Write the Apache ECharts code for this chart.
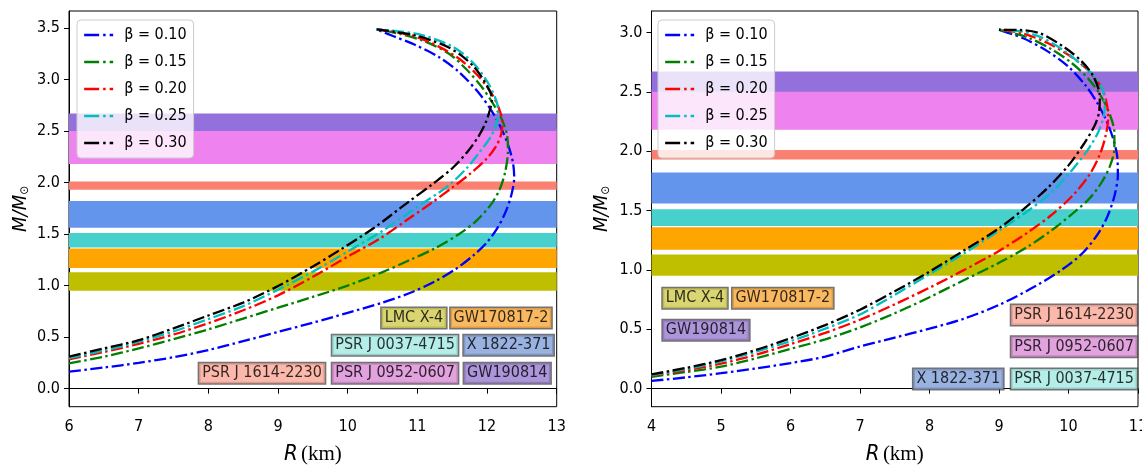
<!DOCTYPE html>
<html>
<head>
<meta charset="utf-8">
<script src="https://cdn.jsdelivr.net/npm/echarts@6/dist/echarts.min.js"></script>
<style>
  html, body { margin: 0; padding: 0; background: #ffffff; }
  #chart { width: 1142px; height: 467px; }
</style>
</head>
<body>
<div id="chart"></div>
<script>
// Mass-radius sequences for five values of beta, [R (km), M/M_sun]
const betaNames = ['β = 0.10', 'β = 0.15', 'β = 0.20', 'β = 0.25', 'β = 0.30'];

// Left panel
const leftB010 = [[6.0,0.165],[6.5,0.205],[7.0,0.25],[7.5,0.305],[8.0,0.375],[8.5,0.46],[9.0,0.55],[9.5,0.64],[10.0,0.735],[10.5,0.835],[10.9,0.93],[11.25,1.04],[11.55,1.16],[11.8,1.29],[12.0,1.42],[12.15,1.56],[12.27,1.72],[12.35,1.88],[12.39,2.05],[12.37,2.2],[12.3,2.37],[12.2,2.53],[12.07,2.69],[11.88,2.87],[11.6,3.07],[11.3,3.22],[10.95,3.34],[10.65,3.42],[10.41,3.486]];
const leftB015 = [[6.0,0.245],[6.5,0.31],[7.0,0.39],[7.5,0.48],[8.0,0.575],[8.5,0.68],[9.0,0.785],[9.5,0.89],[10.0,1.0],[10.5,1.13],[10.9,1.25],[11.25,1.36],[11.6,1.5],[11.85,1.63],[12.05,1.78],[12.18,1.93],[12.26,2.1],[12.3,2.3],[12.29,2.45],[12.22,2.6],[12.1,2.75],[11.92,2.93],[11.7,3.1],[11.45,3.25],[11.1,3.37],[10.75,3.44],[10.41,3.486]];
const leftB020 = [[6.0,0.285],[6.5,0.355],[7.0,0.435],[7.5,0.525],[8.0,0.635],[8.5,0.76],[9.0,0.905],[9.5,1.085],[10.0,1.28],[10.45,1.45],[10.85,1.636],[11.2,1.8],[11.5,1.95],[11.75,2.08],[11.98,2.22],[12.12,2.34],[12.2,2.46],[12.22,2.58],[12.17,2.72],[12.05,2.88],[11.85,3.05],[11.6,3.2],[11.3,3.32],[10.9,3.43],[10.41,3.486]];
const leftB025 = [[6.0,0.295],[6.5,0.37],[7.0,0.455],[7.5,0.555],[8.0,0.675],[8.5,0.8],[9.0,0.96],[9.5,1.135],[10.0,1.33],[10.5,1.53],[11.0,1.765],[11.43,1.96],[11.71,2.14],[11.9,2.3],[12.05,2.44],[12.13,2.56],[12.16,2.68],[12.14,2.78],[12.02,2.96],[11.8,3.16],[11.5,3.32],[11.0,3.44],[10.41,3.486]];
const leftB030 = [[6.0,0.31],[6.5,0.39],[7.0,0.47],[7.5,0.585],[8.0,0.71],[8.5,0.835],[9.0,0.995],[9.5,1.185],[9.9,1.35],[10.37,1.556],[10.85,1.8],[11.23,1.99],[11.52,2.15],[11.74,2.315],[11.88,2.45],[11.98,2.58],[12.04,2.7],[12.07,2.8],[12.05,2.87],[11.95,2.994],[11.81,3.123],[11.62,3.237],[11.43,3.317],[11.19,3.38],[10.95,3.43],[10.66,3.463],[10.41,3.486]];

// Right panel
const rightB010 = [[4.0,0.065],[4.5,0.095],[5.0,0.13],[5.5,0.17],[6.0,0.215],[6.5,0.27],[7.0,0.355],[7.5,0.43],[8.0,0.505],[8.5,0.59],[9.0,0.705],[9.5,0.855],[9.9,1.0],[10.2,1.14],[10.42,1.3],[10.56,1.45],[10.66,1.62],[10.71,1.8],[10.7,1.96],[10.645,2.1],[10.55,2.25],[10.42,2.4],[10.25,2.55],[10.0,2.71],[9.7,2.84],[9.35,2.95],[9.0,3.022]];
const rightB015 = [[4.0,0.10],[4.5,0.14],[5.0,0.185],[5.5,0.255],[6.0,0.335],[6.5,0.415],[7.0,0.515],[7.5,0.635],[8.0,0.77],[8.5,0.915],[9.0,1.06],[9.4,1.19],[9.75,1.33],[10.05,1.47],[10.3,1.6],[10.48,1.74],[10.6,1.88],[10.66,2.02],[10.66,2.16],[10.6,2.3],[10.48,2.45],[10.3,2.6],[10.05,2.74],[9.75,2.86],[9.4,2.96],[9.0,3.022]];
const rightB020 = [[4.0,0.11],[4.5,0.155],[5.0,0.21],[5.5,0.285],[6.0,0.375],[6.5,0.47],[7.0,0.58],[7.5,0.71],[8.0,0.85],[8.5,1.0],[9.0,1.16],[9.4,1.31],[9.75,1.46],[10.05,1.62],[10.3,1.8],[10.45,1.97],[10.53,2.12],[10.57,2.27],[10.55,2.4],[10.48,2.53],[10.3,2.67],[10.05,2.79],[9.7,2.91],[9.35,2.99],[9.0,3.022]];
const rightB025 = [[4.0,0.115],[4.5,0.165],[5.0,0.23],[5.5,0.31],[6.0,0.40],[6.5,0.505],[7.0,0.625],[7.5,0.79],[8.0,0.965],[8.5,1.14],[9.0,1.33],[9.4,1.49],[9.75,1.65],[10.05,1.84],[10.3,2.03],[10.45,2.19],[10.52,2.35],[10.5,2.5],[10.38,2.63],[10.2,2.72],[9.95,2.84],[9.6,2.96],[9.3,3.01],[9.0,3.022]];
const rightB030 = [[4.0,0.12],[4.5,0.175],[5.0,0.24],[5.5,0.325],[6.0,0.425],[6.5,0.535],[7.0,0.665],[7.5,0.82],[8.0,0.985],[8.5,1.165],[9.0,1.35],[9.35,1.51],[9.7,1.69],[10.0,1.88],[10.22,2.06],[10.38,2.22],[10.44,2.33],[10.45,2.46],[10.36,2.628],[10.2,2.75],[9.95,2.87],[9.6,2.99],[9.3,3.02],[9.0,3.022]];

// Observational mass constraints (M/M_sun)
const bandNames = ['LMC X-4', 'GW170817-2', 'PSR J 0037-4715', 'X 1822-371', 'PSR J 1614-2230', 'PSR J 0952-0607', 'GW190814'];
const bandLow  = [0.95, 1.17, 1.37, 1.56, 1.93, 2.18, 2.50];
const bandHigh = [1.13, 1.36, 1.51, 1.82, 2.01, 2.52, 2.67];

// Where each name tag sits, in data units [R, M]
const tagSpotsLeft  = [[10.95,0.686],[12.20,0.686],[10.68,0.422],[12.31,0.422],[8.77,0.149],[10.68,0.149],[12.29,0.149]];
const tagSpotsRight = [[4.626,0.762],[5.889,0.762],[10.08,0.082],[8.414,0.082],[10.08,0.621],[10.08,0.353],[4.784,0.492]];

// Axis ticks
const leftXTicks = [6, 7, 8, 9, 10, 11, 12, 13];
const leftYTicks = [0.0, 0.5, 1.0, 1.5, 2.0, 2.5, 3.0, 3.5];
const rightXTicks = [4, 5, 6, 7, 8, 9, 10, 11];
const rightYTicks = [0.0, 0.5, 1.0, 1.5, 2.0, 2.5, 3.0];

// ---------- styling ----------
const lineColors = ['#0000ff', '#008000', '#ff0000', '#00bfbf', '#000000'];
const bandColors = ['#bfbf00', '#ffa500', '#48d1cc', '#6495ed', '#fa8072', '#ee82ee', '#9370db'];
const tagColors  = ['#cfcb4f', '#f7a838', '#a3e8e2', '#809fd8', '#faa696', '#da8bd6', '#987ad0'];
const FONT = '"DejaVu Sans Condensed", "DejaVu Sans", sans-serif';
const dashDot = [12, 3.5, 2.5, 3.5];

const chart = echarts.init(document.getElementById('chart'), null, { renderer: 'canvas' });

function bandSeries(idx, xMin) {
  return {
    type: 'custom',
    xAxisIndex: idx, yAxisIndex: idx,
    silent: true, z: 1,
    data: bandLow.map((lo, i) => [xMin, lo, bandHigh[i], i]),
    encode: { x: 0, y: [1, 2] },
    renderItem: (params, api) => {
      const cs = params.coordSys;
      const yTop = api.coord([api.value(0), api.value(2)])[1];
      const yBot = api.coord([api.value(0), api.value(1)])[1];
      return {
        type: 'rect',
        shape: { x: cs.x, y: yTop, width: cs.width, height: yBot - yTop },
        style: { fill: bandColors[api.value(3)] }
      };
    }
  };
}

function curveSeries(idx, curves) {
  return curves.map((pts, k) => ({
    type: 'line',
    name: betaNames[k],
    xAxisIndex: idx, yAxisIndex: idx,
    data: pts,
    symbol: 'none',
    smooth: 0.3,
    z: 3 + k,
    lineStyle: { color: lineColors[k], width: 2.3, type: dashDot },
    itemStyle: { color: lineColors[k] }
  }));
}

function tagSeries(idx, spots) {
  return {
    type: 'scatter',
    xAxisIndex: idx, yAxisIndex: idx,
    symbolSize: 0, silent: true, z: 10,
    data: spots.map((p, i) => ({
      value: p,
      name: bandNames[i],
      label: { backgroundColor: tagColors[i] }
    })),
    label: {
      show: true,
      position: 'inside',
      formatter: p => p.name,
      fontFamily: FONT, fontSize: 16, color: '#000',
      borderColor: '#505050', borderWidth: 1.5,
      padding: [3, 3, 1, 3]
    }
  };
}

function xAxisCfg(idx, lo, hi, ticks) {
  return {
    type: 'value', gridIndex: idx, min: lo, max: hi,
    name: '{i|R} {s|(km)}', nameLocation: 'middle', nameGap: 37,
    nameTextStyle: {
      rich: {
        i: { fontFamily: FONT, fontStyle: 'italic', fontSize: 22, color: '#000' },
        s: { fontFamily: '"Liberation Serif", serif', fontSize: 21, color: '#000' }
      }
    },
    axisLine: { show: true, lineStyle: { color: '#000', width: 1 } },
    axisTick: { show: true, length: 5, customValues: ticks, lineStyle: { color: '#000' } },
    axisLabel: { customValues: ticks, fontFamily: FONT, fontSize: 16, color: '#000', margin: 12, formatter: v => String(v) },
    splitLine: { show: false }
  };
}

function yAxisCfg(idx, lo, hi, ticks, gap) {
  return {
    type: 'value', gridIndex: idx, min: lo, max: hi,
    name: '{i|M/M}{s|⊙}', nameLocation: 'middle', nameGap: gap, nameRotate: 90,
    nameTextStyle: {
      rich: {
        i: { fontFamily: FONT, fontStyle: 'italic', fontSize: 20, color: '#000', lineHeight: 24, verticalAlign: 'bottom' },
        s: { fontFamily: FONT, fontSize: 12, color: '#000', lineHeight: 24, verticalAlign: 'bottom' }
      }
    },
    axisLine: { show: true, lineStyle: { color: '#000', width: 1 } },
    axisTick: { show: true, length: 5, customValues: ticks, lineStyle: { color: '#000' } },
    axisLabel: { customValues: ticks, fontFamily: FONT, fontSize: 16, color: '#000', margin: 9, formatter: v => v.toFixed(1) },
    splitLine: { show: false }
  };
}

function legendCfg(left) {
  return {
    data: betaNames,
    orient: 'vertical',
    left: left, top: 20,
    padding: [7, 7, 7, 6],
    itemWidth: 29, itemHeight: 16, itemGap: 11,
    itemStyle: { opacity: 0 },
    lineStyle: { width: 2.3, type: [15, 4, 2.5, 4] },
    backgroundColor: 'rgba(255,255,255,0.8)',
    borderColor: '#cccccc', borderWidth: 1, borderRadius: 4,
    selectedMode: false,
    textStyle: { fontFamily: FONT, fontSize: 16, color: '#000', padding: [0, 0, 0, 6] }
  };
}

const gridBase = { top: 11, height: 395.7, show: true, borderColor: '#000', borderWidth: 1, backgroundColor: 'transparent', outerBoundsMode: 'none', containLabel: false };

const option = {
  animation: false,
  backgroundColor: '#ffffff',
  grid: [
    Object.assign({ left: 69, width: 487.7 }, gridBase),
    Object.assign({ left: 651.5, width: 486.5 }, gridBase)
  ],
  xAxis: [
    xAxisCfg(0, 6, 13, leftXTicks),
    xAxisCfg(1, 4, 11, rightXTicks)
  ],
  yAxis: [
    yAxisCfg(0, -0.175, 3.663, leftYTicks, 38),
    yAxisCfg(1, -0.152, 3.18, rightYTicks, 40)
  ],
  legend: [legendCfg(77), legendCfg(658)],
  series: [
    bandSeries(0, 6),
    ...curveSeries(0, [leftB010, leftB015, leftB020, leftB025, leftB030]),
    tagSeries(0, tagSpotsLeft),
    bandSeries(1, 4),
    ...curveSeries(1, [rightB010, rightB015, rightB020, rightB025, rightB030]),
    tagSeries(1, tagSpotsRight)
  ]
};

chart.setOption(option);
</script>
</body>
</html>
